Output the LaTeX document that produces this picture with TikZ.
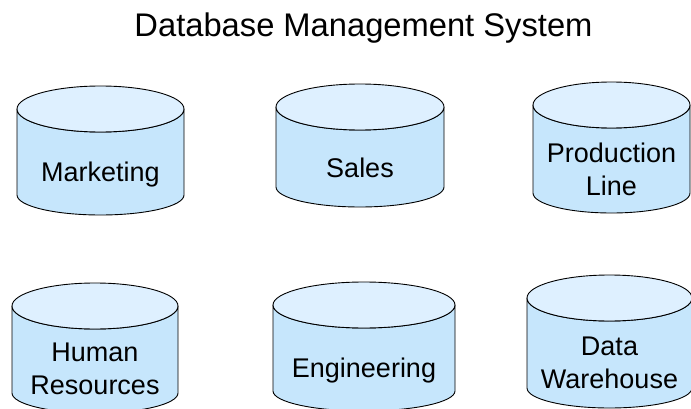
\documentclass[tikz,border=0pt]{standalone}
\usepackage{fontspec}
\setmainfont{Liberation Sans}
\definecolor{dbtop}{RGB}{222,240,255}
\definecolor{dbbody}{RGB}{198,230,252}

\begin{document}
\begin{tikzpicture}[x=1pt,y=1pt,
 body/.style={draw,line width=0.9pt,fill=dbbody},
 rim/.style={draw,line width=0.9pt,fill=dbtop},
 lbl/.style={align=center,font=\fontsize{27}{33}\selectfont,text depth=0pt,inner sep=0pt}]
\useasboundingbox (0,0) rectangle (691,408);
\node[font=\fontsize{32.7}{38}\selectfont,anchor=base] (title) at (363.5,371) {Database Management System};
% one disk per department: name/centre x/x radius/top/bottom/label y/label
\foreach \nm/\cx/\rx/\yt/\yb/\ym/\txt in {
  mkt/100.5/83.5/322/193/236/{Marketing},
  sales/360/84/324/201/240/{Sales},
  prod/611.5/78.5/326/195/239/{Production\\Line},
  hr/95/83/125/-5/39/{Human\\Resources},
  eng/364/91/126/-3/40/{Engineering},
  dw/609.5/82.5/133/0/45/{Data\\Warehouse}}{
  \draw[body] (\cx-\rx,\yt-23) -- (\cx-\rx,\yb+20) arc[start angle=180,end angle=360,x radius=\rx,y radius=20]
    -- (\cx+\rx,\yt-23) arc[start angle=0,end angle=-180,x radius=\rx,y radius=23] -- cycle;
  \draw[rim] (\cx,\yt-23) ellipse[x radius=\rx,y radius=23];
  \node[lbl] (\nm) at (\cx,\ym) {\txt};
}
\end{tikzpicture}
\end{document}
